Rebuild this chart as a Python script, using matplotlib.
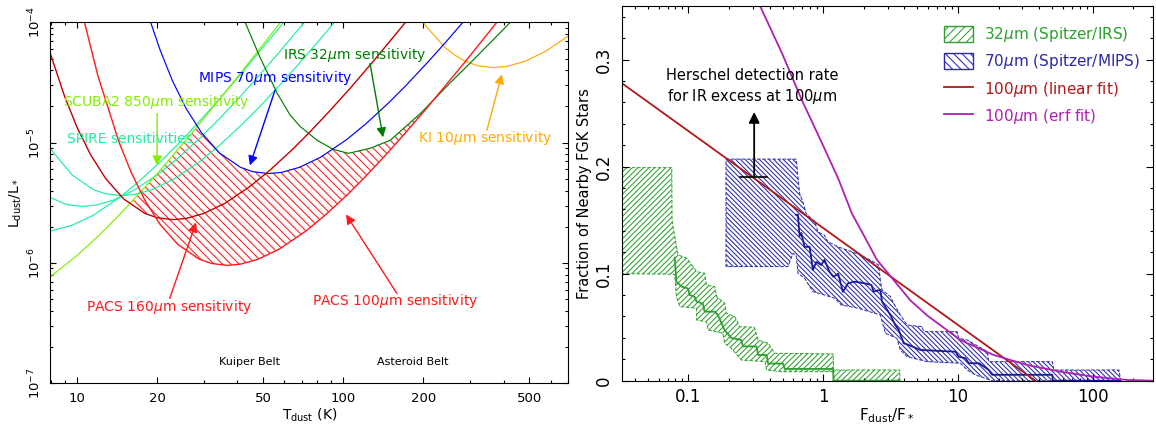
import numpy as np
import matplotlib
matplotlib.use('Agg')
import matplotlib.pyplot as plt
from matplotlib.patches import Patch
from matplotlib.lines import Line2D
from matplotlib.ticker import FixedLocator, FixedFormatter, NullFormatter, LogLocator, MultipleLocator

plt.rcParams['font.family'] = ['DejaVu Sans']
plt.rcParams['hatch.linewidth'] = 0.75

### left panel: sensitivity limits, L_dust/L_* vs T_dust (K) ###
pacs100_T = [10.58, 11.99, 14.39, 15.99, 17.99, 20.55, 23.98, 28.78, 31.97, 36.7, 41.1, 47.96, 57.55, 71.94, 84.64, 102.8, 119.9, 143.9, 169.3, 205.5, 287.8, 359.7, 388.9]
pacs100_L = [1.076e-4, 3.58e-5, 1.007e-5, 5.64e-6, 3.32e-6, 2.08e-6, 1.419e-6, 1.076e-6, 9.91e-7, 9.55e-7, 9.77e-7, 1.076e-6, 1.306e-6, 1.824e-6, 2.449e-6, 3.63e-6, 5.105e-6, 7.85e-6, 1.172e-5, 1.928e-5, 4.74e-5, 8.77e-5, 1.091e-4]
pacs160_T = [7.92, 8.99, 9.99, 11.24, 12.84, 14.98, 17.98, 19.98, 22.93, 25.69, 29.97, 35.96, 44.95, 52.88, 64.2, 74.9, 89.9, 105.8, 128.4, 179.8]
pacs160_L = [5.61e-5, 2.415e-5, 1.352e-5, 7.96e-6, 5.0e-6, 3.404e-6, 2.582e-6, 2.377e-6, 2.291e-6, 2.344e-6, 2.582e-6, 3.133e-6, 4.375e-6, 5.87e-6, 8.71e-6, 1.225e-5, 1.884e-5, 2.81e-5, 4.624e-5, 1.138e-4]
mips_T = [18.68, 20.55, 22.83, 25.69, 29.36, 34.25, 41.1, 45.67, 52.42, 58.71, 68.5, 82.2, 102.75, 120.9, 146.8, 171.25, 205.5, 241.8, 293.6]
mips_L = [1.081e-4, 5.834e-5, 3.266e-5, 1.923e-5, 1.208e-5, 8.22e-6, 6.237e-6, 5.74e-6, 5.534e-6, 5.662e-6, 6.237e-6, 7.568e-6, 1.057e-5, 1.419e-5, 2.104e-5, 2.958e-5, 4.55e-5, 6.79e-5, 1.117e-4]
irs_T = [42.8, 48.7, 56.5, 63.2, 68.8, 79.8, 91.6, 104.5, 126, 150, 195, 253, 300, 424]
irs_L = [1.0e-4, 5.1e-5, 2.57e-5, 1.69e-5, 1.366e-5, 1.045e-5, 8.8e-6, 8.15e-6, 8.97e-6, 1.045e-5, 1.75e-5, 3.17e-5, 4.6e-5, 1.0e-4]
ki_T = [191.8, 205.5, 239.8, 261.6, 287.8, 319.7, 367, 411, 479.6, 575.5, 719.4]
ki_L = [1.146e-4, 9.16e-5, 6.24e-5, 5.35e-5, 4.73e-5, 4.355e-5, 4.2e-5, 4.3e-5, 4.73e-5, 5.74e-5, 8.02e-5]
scuba_T = [7.92, 10, 12.5, 15, 20, 25, 30, 40, 50, 60]
scuba_L = [7.64e-7, 1.151e-6, 1.82e-6, 2.748e-6, 5.52e-6, 9.82e-6, 1.592e-5, 3.5e-5, 6.53e-5, 1.096e-4]
spire250_T = [7.92, 9.59, 11.51, 12.79, 14.68, 16.44, 19.18, 23.02, 28.78, 33.9, 41.1, 47.95, 57.55, 67.7, 82.2, 95.9]
spire250_L = [8.97e-6, 5.38e-6, 4.08e-6, 3.758e-6, 3.62e-6, 3.707e-6, 4.08e-6, 4.95e-6, 6.92e-6, 9.29e-6, 1.377e-5, 1.936e-5, 2.98e-5, 4.45e-5, 7.31e-5, 1.099e-4]
spire350_T = [7.92, 9.13, 10.48, 11.74, 13.7, 16.44, 20.55, 24.18, 29.36, 34.25, 41.1, 48.35, 58.7, 74.7]
spire350_L = [3.508e-6, 3.062e-6, 2.951e-6, 3.02e-6, 3.327e-6, 4.036e-6, 5.636e-6, 7.57e-6, 1.122e-5, 1.578e-5, 2.427e-5, 3.62e-5, 5.96e-5, 1.13e-4]
spire500_T = [7.92, 9.6, 11.52, 14.4, 16.94, 20.57, 24.0, 28.8, 33.9, 41.14, 57.6, 64]
spire500_L = [1.845e-6, 2.056e-6, 2.495e-6, 3.483e-6, 4.677e-6, 6.93e-6, 9.75e-6, 1.5e-5, 2.24e-5, 3.68e-5, 9.06e-5, 1.208e-4]

### right panel: fraction of nearby FGK stars vs F_dust/F_* ###
green_up_F = [0.032, 0.0753, 0.0756, 0.0791, 0.0838, 0.0973, 0.115, 0.132, 0.136, 0.157, 0.162, 0.186, 0.191, 0.221, 0.240, 0.309, 0.328, 0.390, 0.437, 1.184, 1.195, 3.7]
green_up_y = [0.199, 0.199, 0.150, 0.1347, 0.1175, 0.1144, 0.1019, 0.1004, 0.0894, 0.0879, 0.0785, 0.0723, 0.063, 0.0598, 0.0505, 0.0499, 0.038, 0.035, 0.0256, 0.025, 0.010, 0.010]
green_lo_F = [0.032, 0.0791, 0.0815, 0.0864, 0.115, 0.115, 0.136, 0.140, 0.180, 0.186, 0.208, 0.247, 0.37, 0.38, 0.493, 1.19, 1.2, 3.7]
green_lo_y = [0.1, 0.0994, 0.0785, 0.0692, 0.0676, 0.0567, 0.0551, 0.0474, 0.0443, 0.035, 0.0303, 0.0193, 0.0178, 0.010, 0.0084, 0.0084, 0.0, 0.0]
green_med_F = [0.0791, 0.0815, 0.0888, 0.0994, 0.102, 0.111, 0.115, 0.128, 0.132, 0.157, 0.166, 0.186, 0.208, 0.247, 0.254, 0.320, 0.329, 0.380, 0.390, 0.504, 0.519, 1.184, 1.19, 3.7]
green_med_y = [0.115, 0.0925, 0.088, 0.086, 0.080, 0.0785, 0.074, 0.072, 0.0645, 0.0645, 0.061, 0.047, 0.040, 0.038, 0.032, 0.032, 0.024, 0.024, 0.016, 0.016, 0.011, 0.011, 0.0, 0.0]

blue_up_F = [0.19, 0.63, 0.649, 0.668, 0.706, 0.748, 0.863, 0.913, 1.02, 1.08, 1.29, 1.62, 1.88, 2.36, 2.58, 2.65, 2.73, 3.15, 3.33, 3.73, 4.19, 5.41, 5.56, 9.85, 10.1, 11.7, 16.5, 16.9, 50.0, 51.4, 156, 161]
blue_up_y = [0.207, 0.207, 0.191, 0.175, 0.167, 0.156, 0.1486, 0.139, 0.136, 0.130, 0.125, 0.1206, 0.1175, 0.111, 0.108, 0.094, 0.0848, 0.0785, 0.0723, 0.0614, 0.052, 0.0505, 0.0458, 0.0458, 0.0396, 0.038, 0.0271, 0.0178, 0.0178, 0.010, 0.010, 0.0]
blue_lo_F = [0.19, 0.547, 0.596, 0.63, 0.649, 0.727, 0.839, 1.02, 1.22, 1.36, 1.81, 2.41, 2.65, 2.89, 3.52, 3.73, 4.19, 5.89, 10.4, 11.7, 13.5, 17.9, 161]
blue_lo_y = [0.1066, 0.1066, 0.119, 0.1175, 0.1004, 0.0957, 0.0832, 0.0801, 0.077, 0.0707, 0.0677, 0.063, 0.0614, 0.0443, 0.0396, 0.0287, 0.0224, 0.0178, 0.0163, 0.010, 0.0053, 0.0, 0.0]
blue_med_F = [0.63, 0.649, 0.668, 0.687, 0.727, 0.792, 0.839, 0.888, 0.967, 1.02, 1.11, 1.19, 1.29, 1.40, 1.53, 1.71, 2.03, 2.28, 2.36, 2.65, 2.73, 3.15, 3.42, 3.63, 3.95, 4.30, 5.25, 9.56, 10.1, 11.4, 12.0, 14.3, 16.9, 17.9, 50.0, 50.5, 160]
blue_med_y = [0.155, 0.155, 0.135, 0.138, 0.125, 0.125, 0.1035, 0.111, 0.108, 0.113, 0.102, 0.097, 0.100, 0.083, 0.091, 0.0925, 0.091, 0.0894, 0.0832, 0.0848, 0.0738, 0.0614, 0.052, 0.0474, 0.035, 0.0334, 0.0287, 0.0271, 0.0224, 0.0209, 0.0163, 0.0163, 0.010, 0.0055, 0.0055, 0.0, 0.0]

lin_F = [0.032, 37.5]
lin_y = [0.278, 0.0]
erf_F = [0.34, 0.494, 0.695, 0.978, 1.30, 1.634, 1.88, 2.50, 3.33, 4.43, 5.89, 10.4, 18.4, 32.5, 57.5, 101.6, 180, 280]
erf_y = [0.350, 0.306, 0.262, 0.222, 0.188, 0.156, 0.142, 0.113, 0.094, 0.075, 0.061, 0.038, 0.024, 0.0147, 0.0084, 0.0037, 0.0007, 0.0]

herschel_F = 0.3075
herschel_y = 0.19

### colours ###
c_p100 = '#ff1a1a'
c_p160 = '#c40000'
c_mips = '#0000ff'
c_irs = '#007d00'
c_ki = '#ffaa00'
c_scuba = '#80ee00'
c_spire = '#1eeea0'
c_g = '#2ea02e'
c_b = '#2a2aa8'
c_bmed = '#1a1a98'
c_lin = '#b01818'
c_erf = '#b020b0'

h_red = '\\' * 4
h_green = '/' * 6
h_blue = '\\' * 7

fs = 10
fssml = 9.5
lwl = 0.85

fig = plt.figure(figsize=(11.56, 4.29), dpi=100)

### left panel ###
ax1 = fig.add_axes([0.04325, 0.1065, 0.4484, 0.8415])
ax1.set_xscale('log')
ax1.set_yscale('log')

# hatched region: PACS detects but not SCUBA2 / MIPS / IRS
def lgi(t, T, L):
	return np.interp(np.log10(t), np.log10(T), np.log10(L), left=np.nan, right=np.nan)

tg = np.geomspace(12, 320, 600)
upper = np.fmin(np.fmin(lgi(tg, scuba_T, scuba_L), lgi(tg, mips_T, mips_L)), lgi(tg, irs_T, irs_L))
lower = np.fmin(lgi(tg, pacs100_T, pacs100_L), lgi(tg, pacs160_T, pacs160_L))
ok = lower < upper
ax1.fill_between(tg, 10**lower, 10**upper, where=ok, interpolate=True, facecolor='none', edgecolor=c_p100, hatch=h_red, linewidth=0)

ax1.plot(spire250_T, spire250_L, color=c_spire, lw=lwl)
ax1.plot(spire350_T, spire350_L, color=c_spire, lw=lwl)
ax1.plot(spire500_T, spire500_L, color=c_spire, lw=lwl)
ax1.plot(scuba_T, scuba_L, color=c_scuba, lw=lwl)
ax1.plot(ki_T, ki_L, color=c_ki, lw=lwl)
ax1.plot(irs_T, irs_L, color=c_irs, lw=lwl)
ax1.plot(mips_T, mips_L, color=c_mips, lw=lwl)
ax1.plot(pacs160_T, pacs160_L, color=c_p160, lw=1.0)
ax1.plot(pacs100_T, pacs100_L, color=c_p100, lw=1.0)

def arrow(ax, x0, y0, x1, y1, c, lw=1.0, ms=14):
	ax.annotate('', xy=(x1, y1), xytext=(x0, y0),
		arrowprops=dict(arrowstyle='-|>', color=c, lw=lw, mutation_scale=ms, shrinkA=0, shrinkB=0))

ax1.text(59.4, 5.3e-5, 'IRS 32$\\mu$m sensitivity', color=c_irs, fontsize=fs, va='center')
arrow(ax1, 126, 4.56e-5, 141, 1.107e-5, c_irs)
ax1.text(28.5, 3.42e-5, 'MIPS 70$\\mu$m sensitivity', color=c_mips, fontsize=fs, va='center')
arrow(ax1, 55.4, 2.72e-5, 44.6, 6.47e-6, c_mips)
ax1.text(8.86, 2.16e-5, 'SCUBA2 850$\\mu$m sensitivity', color=c_scuba, fontsize=fs, va='center')
arrow(ax1, 20, 1.75e-5, 20, 6.47e-6, c_scuba)
ax1.text(9.17, 1.063e-5, 'SPIRE sensitivities', color=c_spire, fontsize=fs, va='center')
ax1.text(190.8, 1.087e-5, 'KI 10$\\mu$m sensitivity', color=c_ki, fontsize=fs, va='center')
arrow(ax1, 346, 1.265e-5, 394, 3.7e-5, c_ki)
ax1.text(10.8, 4.27e-7, 'PACS 160$\\mu$m sensitivity', color=c_p100, fontsize=fs, va='center')
arrow(ax1, 22.3, 5.08e-7, 28.0, 2.17e-6, c_p100)
ax1.text(76.3, 4.8e-7, 'PACS 100$\\mu$m sensitivity', color=c_p100, fontsize=fs, va='center')
arrow(ax1, 159, 5.58e-7, 102.4, 2.53e-6, c_p100)
ax1.text(34.1, 1.49e-7, 'Kuiper Belt', color='black', fontsize=8, va='center')
ax1.text(133.9, 1.49e-7, 'Asteroid Belt', color='black', fontsize=8, va='center')

ax1.set_xlim([7.92, 700])
ax1.set_ylim([1e-7, 1e-4])
ax1.xaxis.set_major_locator(FixedLocator([10, 20, 50, 100, 200, 500]))
ax1.xaxis.set_major_formatter(FixedFormatter(['10', '20', '50', '100', '200', '500']))
ax1.xaxis.set_minor_locator(FixedLocator([8, 9, 30, 40, 60, 70, 80, 90, 300, 400, 600, 700]))
ax1.xaxis.set_minor_formatter(NullFormatter())
ax1.yaxis.set_major_locator(LogLocator(base=10, numticks=10))
ax1.yaxis.set_minor_locator(LogLocator(base=10, subs=np.arange(2, 10), numticks=10))
ax1.yaxis.set_minor_formatter(NullFormatter())
ax1.tick_params(which='both', direction='in', top=True, right=True, width=0.8)
ax1.tick_params(which='major', length=4.5)
ax1.tick_params(which='minor', length=2.3)
ax1.tick_params(axis='x', labelsize=fssml, pad=6)
ax1.tick_params(axis='y', labelsize=fssml, pad=5, labelrotation=90)
for lab in ax1.get_yticklabels():
	lab.set_va('center')
ax1.set_xlabel(r'T$_{\rm dust}$ (K)', fontsize=fs)
ax1.set_ylabel(r'L$_{\rm dust}$/L$_*$', fontsize=fs)
ax1.xaxis.set_label_coords(0.5, -0.065)
ax1.yaxis.set_label_coords(-0.05, 0.5)

### right panel ###
ax2 = fig.add_axes([0.5378, 0.1126, 0.4592, 0.8734])
ax2.set_xscale('log')

ax2.fill(green_up_F + green_lo_F[::-1], green_up_y + green_lo_y[::-1], facecolor='none', edgecolor=c_g, hatch=h_green, linestyle='--', lw=0.7)
ax2.plot(green_med_F, green_med_y, color=c_g, lw=1.3)
ax2.fill(blue_up_F + blue_lo_F[::-1], blue_up_y + blue_lo_y[::-1], facecolor='none', edgecolor=c_b, hatch=h_blue, linestyle='--', lw=0.7)
ax2.plot(blue_med_F, blue_med_y, color=c_bmed, lw=1.3)
ax2.plot(lin_F, lin_y, color=c_lin, lw=1.3)
ax2.plot(erf_F, erf_y, color=c_erf, lw=1.3)

ax2.plot([0.242, 0.384], [herschel_y, herschel_y], color='black', lw=1.2)
arrow(ax2, herschel_F, herschel_y, herschel_F, 0.251, 'black', lw=1.3, ms=16)
ax2.text(0.297, 0.274, 'Herschel detection rate\nfor IR excess at 100$\\mu$m', ha='center', va='center', fontsize=10.5, linespacing=1.3)

handles = [Patch(facecolor='none', edgecolor=c_g, hatch='/' * 4, lw=1),
	Patch(facecolor='none', edgecolor=c_b, hatch='\\' * 4, lw=1),
	Line2D([], [], color=c_lin, lw=1.3),
	Line2D([], [], color=c_erf, lw=1.3)]
labels = ['32$\\mu$m (Spitzer/IRS)', '70$\\mu$m (Spitzer/MIPS)', '100$\\mu$m (linear fit)', '100$\\mu$m (erf fit)']
ax2.legend(handles, labels, loc='upper left', bbox_to_anchor=(0.607, 0.95), frameon=False, fontsize=11,
	labelcolor=[c_g, c_b, c_lin, c_erf], handlelength=1.9, handleheight=1.25, labelspacing=0.55,
	handletextpad=0.75, borderpad=0, borderaxespad=0)

ax2.set_xlim([0.032, 277])
ax2.set_ylim([0, 0.35])
ax2.xaxis.set_major_locator(FixedLocator([0.1, 1, 10, 100]))
ax2.xaxis.set_major_formatter(FixedFormatter(['0.1', '1', '10', '100']))
ax2.xaxis.set_minor_locator(LogLocator(base=10, subs=np.arange(2, 10), numticks=12))
ax2.xaxis.set_minor_formatter(NullFormatter())
ax2.yaxis.set_major_locator(FixedLocator([0, 0.1, 0.2, 0.3]))
ax2.yaxis.set_major_formatter(FixedFormatter(['0', '0.1', '0.2', '0.3']))
ax2.yaxis.set_minor_locator(MultipleLocator(0.02))
ax2.tick_params(which='both', direction='in', top=True, right=True, width=0.8)
ax2.tick_params(which='major', length=5)
ax2.tick_params(which='minor', length=2.5)
ax2.tick_params(axis='x', labelsize=12, pad=5.5)
ax2.tick_params(axis='y', labelsize=12, pad=6, labelrotation=90)
for lab in ax2.get_yticklabels():
	lab.set_va('center')
ax2.set_xlabel(r'F$_{\rm dust}$/F$_*$', fontsize=11)
ax2.set_ylabel('Fraction of Nearby FGK Stars', fontsize=10.5)
ax2.xaxis.set_label_coords(0.5, -0.068)
ax2.yaxis.set_label_coords(-0.056, 0.5)

plt.savefig('out.png', dpi=100)
plt.close()
